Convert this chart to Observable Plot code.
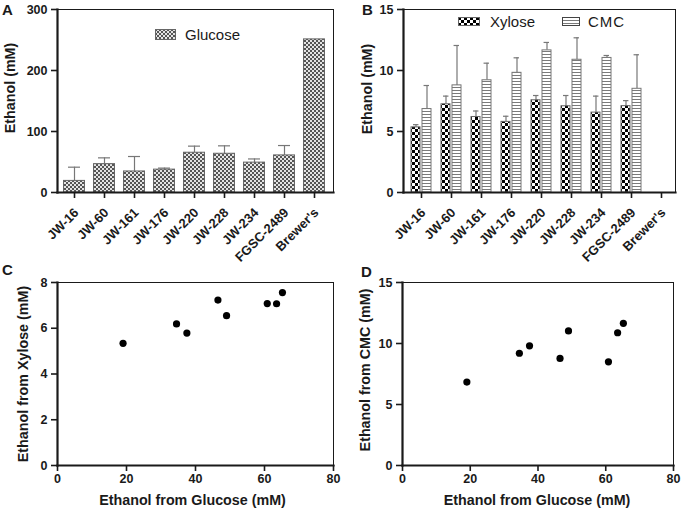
<!DOCTYPE html>
<html><head><meta charset="utf-8">
<script src="https://cdn.jsdelivr.net/npm/d3@7"></script>
<script src="https://cdn.jsdelivr.net/npm/@observablehq/plot@0.6"></script>
<style>
body{margin:0;background:#fff;width:685px;height:509px;position:relative;overflow:hidden;font-family:Arial,"Liberation Sans",sans-serif;color:#1a1a1a}
.panel{position:absolute}
.letter{position:absolute;font-weight:bold;font-size:15px;line-height:15px}
.leg{position:absolute;font-size:15px;line-height:15px;display:flex;align-items:center}
.leg svg{display:block}
</style></head><body>
<svg width="0" height="0" style="position:absolute">
<defs>
<pattern id="glu" patternUnits="userSpaceOnUse" width="4" height="4"><rect width="4" height="4" fill="#e4e4e4"/><rect width="2" height="2" fill="#555"/><rect x="2" y="2" width="2" height="2" fill="#555"/></pattern>
<pattern id="xyl" patternUnits="userSpaceOnUse" width="6" height="6"><rect width="6" height="6" fill="#fff"/><rect width="3" height="3" fill="#000"/><rect x="3" y="3" width="3" height="3" fill="#000"/></pattern>
<pattern id="cmcp" patternUnits="userSpaceOnUse" width="4" height="3"><rect width="4" height="3" fill="#fff"/><rect width="4" height="1" fill="#7a7a7a"/></pattern>
</defs></svg>

<div id="A" class="panel" style="left:0;top:0"></div>
<div id="B" class="panel" style="left:340px;top:0"></div>
<div id="C" class="panel" style="left:0;top:262px"></div>
<div id="D" class="panel" style="left:340px;top:262px"></div>

<div class="letter" style="left:2px;top:2px">A</div>
<div class="letter" style="left:362px;top:2px">B</div>
<div class="letter" style="left:2px;top:262px">C</div>
<div class="letter" style="left:361px;top:264px">D</div>

<div class="leg" style="left:155px;top:27px"><svg width="21" height="11"><rect x="0.5" y="0.5" width="20" height="10" fill="url(#glu)" stroke="#666"/></svg><span style="margin-left:9px">Glucose</span></div>
<div class="leg" style="left:458px;top:14px"><svg width="22" height="9"><rect x="0.5" y="0.5" width="21" height="8" fill="url(#xyl)" stroke="#666"/></svg><span style="margin-left:10px">Xylose</span></div>
<div class="leg" style="left:562px;top:14px"><svg width="18" height="9"><rect x="0.5" y="0.5" width="17" height="8" fill="url(#cmcp)" stroke="#444"/></svg><span style="margin-left:8px;letter-spacing:1px">CMC</span></div>

<script>
const strains = ["JW-16","JW-60","JW-161","JW-176","JW-220","JW-228","JW-234","FGSC-2489","Brewer's"];
const glucose   = [19, 46.5, 34.5, 37.5, 65.2, 63.5, 49, 60.8, 251];
const glucoseSD = [22.5, 10.3, 24.5, 2.5, 10.8, 13, 6, 16.2, 0];
const xylose    = [5.34, 7.23, 6.19, 5.79, 7.56, 7.07, 6.55, 7.08, null];
const xyloseSD  = [0.22, 0.67, 0.49, 0.46, 0.39, 0.88, 1.35, 0.45, null];
const cmc       = [6.84, 8.78, 9.2, 9.81, 11.65, 10.88, 11.03, 8.5, null];
const cmcSD     = [1.93, 3.27, 1.4, 1.23, 0.65, 1.8, 0.2, 2.79, null];
const ticksA = [0, 100, 200, 300];
const ticksB = [0, 5, 10, 15];
const ticksC = [0, 2, 4, 6, 8];
const ticksD = [0, 5, 10, 15];
const ticksGlu = [0, 20, 40, 60, 80];

const rows = strains.map((s, i) => ({strain: s, g: glucose[i], gsd: glucoseSD[i], x: xylose[i], xsd: xyloseSD[i], c: cmc[i], csd: cmcSD[i]}));
const withX = rows.filter(d => d.x != null);

const FONT = "Arial, 'Liberation Sans', sans-serif";
const baseStyle = {fontFamily: FONT, fontSize: "12.5px", fontWeight: "bold", color: "#1a1a1a", background: "transparent", overflow: "visible"};
const ink = "#1a1a1a";

function frameMarks() {
  return [
    Plot.frame({stroke: ink, strokeWidth: 1}),
    Plot.frame({anchor: "left", stroke: ink, strokeWidth: 2.2}),
    Plot.frame({anchor: "bottom", stroke: ink, strokeWidth: 2.2})
  ];
}
function yTitle(label, dx, dy) {
  return Plot.text([label], {frameAnchor: "left", text: d => d, rotate: -90, dx, dy, textAnchor: "middle", lineAnchor: "middle", fontSize: 14.3, fontWeight: "bold", fill: ink});
}
function xTitle(label, dx, dy) {
  return Plot.text([label], {frameAnchor: "bottom", text: d => d, dx, dy, textAnchor: "middle", lineAnchor: "middle", fontSize: 14.3, fontWeight: "bold", fill: ink});
}
const xCatAxis = () => [
  Plot.axisX({tickSize: 6, strokeWidth: 1.6, label: null, stroke: ink, tickFormat: () => ""}),
  Plot.text(strains, {x: d => d, frameAnchor: "bottom", text: d => d, rotate: -45, textAnchor: "end", lineAnchor: "middle", dx: 2, dy: 18, fontSize: 13, fontWeight: "bold", fill: ink})
];

// Panel A
const A = Plot.plot({
  width: 340, height: 262,
  marginLeft: 57, marginRight: 7, marginTop: 9, marginBottom: 70,
  style: baseStyle,
  x: {type: "band", domain: strains, range: [57, 331], padding: 0},
  y: {domain: [0, 300]},
  marks: [
    Plot.ruleX(rows.filter(d => d.gsd > 0), {x: "strain", y1: "g", y2: d => d.g + d.gsd, stroke: "#777", strokeWidth: 1.2}),
    Plot.tickY(rows.filter(d => d.gsd > 0), {x: "strain", y: d => d.g + d.gsd, stroke: "#777", strokeWidth: 1.2, insetLeft: 9, insetRight: 9}),
    Plot.barY(rows, {x: "strain", y: "g", fill: "url(#glu)", stroke: "#666", strokeWidth: 1, insetLeft: 4.5, insetRight: 4.5}),
    ...frameMarks(),
    Plot.axisY({ticks: ticksA, tickSize: 6, tickPadding: 4, strokeWidth: 1.6, label: null, stroke: ink, fill: ink}),
    ...xCatAxis(),
    yTitle("Ethanol (mM)", -47, -13)
  ]
});
document.getElementById("A").append(A);

// Panel B
const bw = 30.56;
const B = Plot.plot({
  width: 345, height: 262,
  marginLeft: 63, marginRight: 10, marginTop: 9, marginBottom: 70,
  style: baseStyle,
  x: {type: "band", domain: strains, range: [63, 338], padding: 0},
  y: {domain: [0, 15]},
  marks: [
    Plot.ruleX(withX, {x: "strain", y1: "x", y2: d => d.x + d.xsd, dx: -5.5, stroke: "#777", strokeWidth: 1.2}),
    Plot.tickY(withX, {x: "strain", y: d => d.x + d.xsd, stroke: "#777", strokeWidth: 1.2, insetLeft: 7, insetRight: bw - 13}),
    Plot.ruleX(withX, {x: "strain", y1: "c", y2: d => d.c + d.csd, dx: 5.5, stroke: "#777", strokeWidth: 1.2}),
    Plot.tickY(withX, {x: "strain", y: d => d.c + d.csd, stroke: "#777", strokeWidth: 1.2, insetLeft: bw - 13, insetRight: 7}),
    Plot.barY(withX, {x: "strain", y: "x", fill: "url(#xyl)", stroke: "#666", strokeWidth: 1, insetLeft: 5, insetRight: 16}),
    Plot.barY(withX, {x: "strain", y: "c", fill: "url(#cmcp)", stroke: "#777", strokeWidth: 1, insetLeft: 16, insetRight: 5}),
    ...frameMarks(),
    Plot.axisY({ticks: ticksB, tickSize: 6, tickPadding: 4, strokeWidth: 1.6, label: null, stroke: ink, fill: ink}),
    ...xCatAxis(),
    yTitle("Ethanol (mM)", -36, -12)
  ]
});
document.getElementById("B").append(B);

// Panel C
const C = Plot.plot({
  width: 340, height: 247,
  marginLeft: 57, marginRight: 7, marginTop: 20, marginBottom: 44,
  style: baseStyle,
  x: {domain: [0, 80]},
  y: {domain: [0, 8]},
  marks: [
    ...frameMarks(),
    Plot.dot(withX, {x: "g", y: "x", r: 3.6, fill: "#000"}),
    Plot.axisY({ticks: ticksC, tickSize: 6, tickPadding: 4, strokeWidth: 1.6, label: null, stroke: ink, fill: ink}),
    Plot.axisX({ticks: ticksGlu, tickSize: 6, tickPadding: 3, strokeWidth: 1.6, label: null, stroke: ink, fill: ink}),
    yTitle("Ethanol from Xylose (mM)", -34, 0),
    xTitle("Ethanol from Glucose (mM)", -3, 35)
  ]
});
document.getElementById("C").append(C);

// Panel D
const D = Plot.plot({
  width: 345, height: 247,
  marginLeft: 62, marginRight: 12, marginTop: 20, marginBottom: 44,
  style: baseStyle,
  x: {domain: [0, 80]},
  y: {domain: [0, 15]},
  marks: [
    ...frameMarks(),
    Plot.dot(withX, {x: "g", y: "c", r: 3.6, fill: "#000"}),
    Plot.axisY({ticks: ticksD, tickSize: 6, tickPadding: 4, strokeWidth: 1.6, label: null, stroke: ink, fill: ink}),
    Plot.axisX({ticks: ticksGlu, tickSize: 6, tickPadding: 3, strokeWidth: 1.6, label: null, stroke: ink, fill: ink}),
    yTitle("Ethanol from CMC (mM)", -37, -4),
    xTitle("Ethanol from Glucose (mM)", -1, 35)
  ]
});
document.getElementById("D").append(D);
</script>
</body></html>
